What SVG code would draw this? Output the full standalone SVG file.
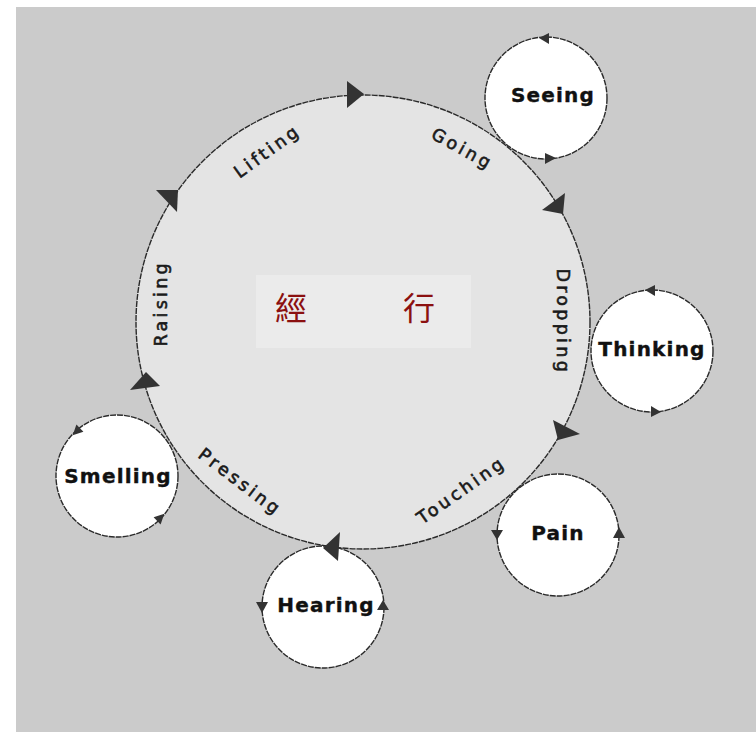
<svg xmlns="http://www.w3.org/2000/svg" width="756" height="732" viewBox="0 0 756 732">
<style>
.ring{stroke:#2a2a2a;stroke-width:1.4;stroke-dasharray:6 1}
.small{fill:#ffffff}
.lbl{font-family:"DejaVu Sans","Liberation Sans",sans-serif;font-size:20px;font-weight:bold;fill:#111;stroke:#111;stroke-width:0.4;letter-spacing:1.2px;text-anchor:middle}
.arc{font-family:"DejaVu Sans","Liberation Sans",sans-serif;font-size:17.5px;fill:#1a1a1a;stroke:#1a1a1a;stroke-width:0.6;letter-spacing:3.3px;text-anchor:middle}
.cjk{font-family:"Noto Sans CJK TC","Noto Sans CJK SC",sans-serif;font-size:32px;fill:#8b1010;text-anchor:middle}
.ah{fill:#333333}
</style>
<rect x="16" y="7" width="740" height="725" fill="#cbcbcb"/>

<g id="cycle">
  <circle cx="363" cy="322" r="227" fill="#e4e4e4" class="ring"/>
  <rect x="256" y="275" width="215" height="73" fill="#ebebeb"/>
  <text class="cjk" x="291" y="320">經</text>
  <text class="cjk" x="419" y="320">行</text>
  <text class="arc" transform="translate(266,152) rotate(-36)" x="1.7" y="6">Lifting</text>
  <text class="arc" transform="translate(461,148) rotate(29)" x="1.7" y="6">Going</text>
  <text class="arc" transform="translate(563,320) rotate(90)" x="1.7" y="6">Dropping</text>
  <text class="arc" transform="translate(460,491) rotate(-35)" x="1.7" y="6">Touching</text>
  <text class="arc" transform="translate(239,481) rotate(37)" x="1.7" y="6">Pressing</text>
  <text class="arc" transform="translate(161,305) rotate(-90)" x="1.7" y="6">Raising</text>
</g>

<g id="seeing">
  <circle cx="546" cy="98" r="61" class="small ring"/>
  <text class="lbl" x="553" y="102">Seeing</text>
</g>
<g id="thinking">
  <circle cx="652" cy="351" r="61" class="small ring"/>
  <text class="lbl" x="652" y="356">Thinking</text>
</g>
<g id="smelling">
  <circle cx="117" cy="476" r="61" class="small ring"/>
  <text class="lbl" x="118" y="483">Smelling</text>
</g>
<g id="hearing">
  <circle cx="323" cy="607" r="61" class="small ring"/>
  <text class="lbl" x="326" y="612">Hearing</text>
</g>
<g id="pain">
  <circle cx="558" cy="535" r="61" class="small ring"/>
  <text class="lbl" x="558" y="540">Pain</text>
</g>

<g id="connectors">
  <polygon class="ah" points="347,81 347,108 364,94"/>
  <polygon class="ah" points="542,210 565,193 563,214"/>
  <polygon class="ah" points="553,420 580,434 558,440"/>
  <polygon class="ah" points="323,548 340,532 338,561"/>
  <polygon class="ah" points="130,390 146,372 160,386"/>
  <polygon class="ah" points="156,190 178,190 177,212"/>

  <polygon class="ah" points="539,38 549,33 549,44"/>
  <polygon class="ah" points="545,153 545,164 556,158"/>
  <polygon class="ah" points="645,290 655,285 655,296"/>
  <polygon class="ah" points="651,406 651,417 661,412"/>
  <polygon class="ah" points="72.7,435.2 83.4,431.8 76.4,424.6"/>
  <polygon class="ah" points="164.3,513.8 160.6,524.4 153.6,517.2"/>
  <polygon class="ah" points="256,602 268,602 262,613"/>
  <polygon class="ah" points="377,610 389,610 383,600"/>
  <polygon class="ah" points="491,530 503,530 497,540"/>
  <polygon class="ah" points="613,538 625,538 619,527"/>
</g>
</svg>
